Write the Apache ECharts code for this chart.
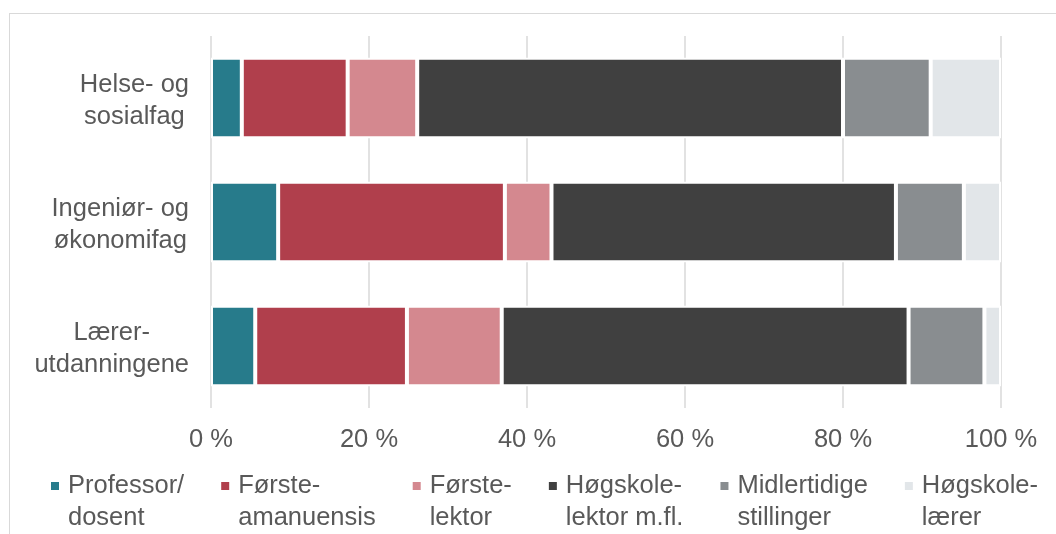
<!DOCTYPE html>
<html>
<head>
<meta charset="utf-8">
<script src="https://cdn.jsdelivr.net/npm/echarts@6/dist/echarts.min.js"></script>
<style>
  html, body { margin: 0; padding: 0; background: #fff; }
  #frame {
    position: absolute; left: 9px; top: 13px; width: 1100px; height: 600px;
    border-top: 1.5px solid #d9d9d9; border-left: 1.5px solid #d9d9d9;
  }
  #chart { position: absolute; left: 0; top: 0; width: 1056px; height: 534px; }
</style>
</head>
<body>
<div id="frame"></div>
<div id="chart"></div>
<script>
// fag (top to bottom)
const categories = ["Helse- og\nsosialfag", "Ingeniør- og\nøkonomifag", "Lærer-\nutdanningene"]
const seriesNames = [
  "Professor/\ndosent",
  "Første-\namanuensis",
  "Første-\nlektor",
  "Høgskole-\nlektor m.fl.",
  "Midlertidige\nstillinger",
  "Høgskole-\nlærer",
]
// percent per category
const professor = [3.9, 8.5, 5.6]
const forsteamanuensis = [13.4, 28.7, 19.2]
const forstelektor = [8.8, 5.9, 12.0]
const hogskolelektor = [53.9, 43.6, 51.5]
const midlertidige = [11.1, 8.6, 9.6]
const hogskolelaerer = [8.9, 4.7, 2.1]
const xTicks = [0, 20, 40, 60, 80, 100]

const colors = ["#277b8b", "#b03f4c", "#d4888f", "#404040", "#898d90", "#e2e6e9"]
const values = [professor, forsteamanuensis, forstelektor, hogskolelektor, midlertidige, hogskolelaerer]

const font = "'Liberation Sans', Arial, sans-serif"
const txt = "#595959"
const fs = 25.5
const lh = 32

var myChart = echarts.init(document.getElementById("chart"))
var option = {
  animation: false,
  textStyle: { fontFamily: font },
  grid: { left: 211, right: 55, top: 36, bottom: 126, containLabel: false },
  legend: {
    left: 49,
    top: 438,
    padding: 0,
    width: 1050,
    itemWidth: 10,
    itemHeight: 10,
    itemGap: 35,
    icon: "rect",
    data: seriesNames,
    // empty first line so the marker sits beside the first text line
    formatter: (name) => "{e|}\n{t|" + name.split("\n").join("}\n{t|") + "}",
    textStyle: {
      color: txt,
      fontSize: fs,
      fontFamily: font,
      lineHeight: lh,
      rich: {
        e: { fontSize: fs, lineHeight: lh, padding: [0, 0, 0, 3] },
        t: { color: txt, fontSize: fs, lineHeight: lh, fontFamily: font, padding: [0, 0, 0, 3] },
      },
    },
  },
  xAxis: {
    type: "value",
    min: xTicks[0],
    max: xTicks[xTicks.length - 1],
    interval: xTicks[1] - xTicks[0],
    axisLine: { show: false },
    axisTick: { show: false },
    splitLine: { lineStyle: { color: "#d9d9d9", width: 1.5 } },
    axisLabel: {
      margin: 19,
      color: txt,
      fontSize: fs,
      fontFamily: font,
      formatter: "{value} %",
    },
  },
  yAxis: {
    type: "category",
    inverse: true,
    data: categories,
    axisLine: { show: false },
    axisTick: { show: false },
    axisLabel: {
      margin: 22,
      color: txt,
      fontSize: fs,
      lineHeight: lh,
      fontFamily: font,
      padding: [6, 0, 0, 0],
      formatter: (v) => v.split("\n").map((s) => "{c|" + s + "}").join("\n"),
      rich: {
        c: { align: "center", color: txt, fontSize: fs, lineHeight: lh, fontFamily: font },
      },
    },
  },
  series: seriesNames.map((name, i) => ({
    name: name,
    type: "bar",
    stack: "total",
    barWidth: "65%",
    color: colors[i],
    itemStyle: { color: colors[i], borderColor: "#fff", borderWidth: 2 },
    data: values[i],
  })),
}
myChart.setOption(option)
</script>
</body>
</html>
